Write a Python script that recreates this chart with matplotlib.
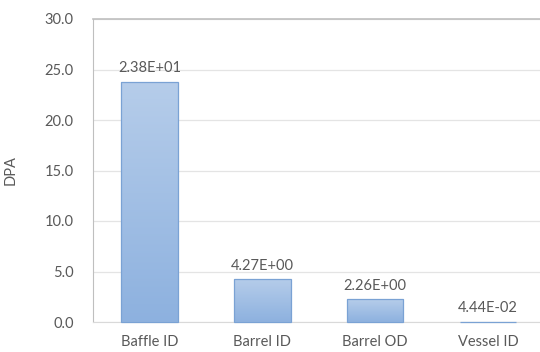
import matplotlib.pyplot as plt
import numpy as np
from matplotlib.colors import LinearSegmentedColormap

locations = ['Baffle ID', 'Barrel ID', 'Barrel OD', 'Vessel ID']
dpa = [23.8, 4.27, 2.26, 0.0444]
dpa_labels = ['2.38E+01', '4.27E+00', '2.26E+00', '4.44E-02']

plt.rcParams['font.family'] = ['Lato', 'DejaVu Sans']
text_gray = '#595959'

fig = plt.figure(figsize=(5.4, 3.52), dpi=100)
ax = fig.add_axes([93 / 540, 30 / 352, 447 / 540, 303 / 352])

x = np.arange(len(locations))
width = 0.5

# vertical gradient, lighter at the top
grad = LinearSegmentedColormap.from_list('bar', ['#8db1df', '#b6cdea'])
bars = ax.bar(x, dpa, width, facecolor='none', edgecolor='#7aa2d4',
              linewidth=0.9, zorder=3, clip_on=False)
for rect in bars:
    x0, y0 = rect.get_x(), rect.get_y()
    w, h = rect.get_width(), rect.get_height()
    img = ax.imshow(np.linspace(0, 1, 256).reshape(-1, 1), cmap=grad,
                    origin='lower', aspect='auto',
                    extent=(x0, x0 + w, y0, y0 + max(h, 0.05)), zorder=2)
    img.set_clip_path(rect)

for xi, v, lab in zip(x, dpa, dpa_labels):
    ax.annotate(lab, (xi, v), xytext=(0, 4.5), textcoords='offset points',
                ha='center', va='bottom', fontsize=10.5, color=text_gray)

ax.set_xlim(-0.5, 3.46)
ax.set_ylim(0, 30)
ax.set_yticks(np.arange(0, 31, 5))
ax.set_yticklabels([f'{t:.1f}' for t in np.arange(0, 31, 5)])
ax.set_xticks(x, locations)
ax.tick_params(axis='both', length=0, labelsize=10.5, colors=text_gray)
ax.tick_params(axis='y', pad=14)
ax.tick_params(axis='x', pad=9)
ax.grid(axis='y', color='#e4e4e4', linewidth=0.9, zorder=0)
ax.set_axisbelow(True)

ax.spines['right'].set_visible(False)
ax.spines['left'].set_color('#bfbfbf')
ax.spines['bottom'].set_color('#d9d9d9')
ax.spines['top'].set_color('#bfbfbf')
ax.spines['top'].set_linewidth(1.2)

ax.set_ylabel('DPA', fontsize=10.5, color=text_gray)
ax.yaxis.set_label_coords(-75 / 447, 0.5)

plt.savefig('out.png', dpi=100)
